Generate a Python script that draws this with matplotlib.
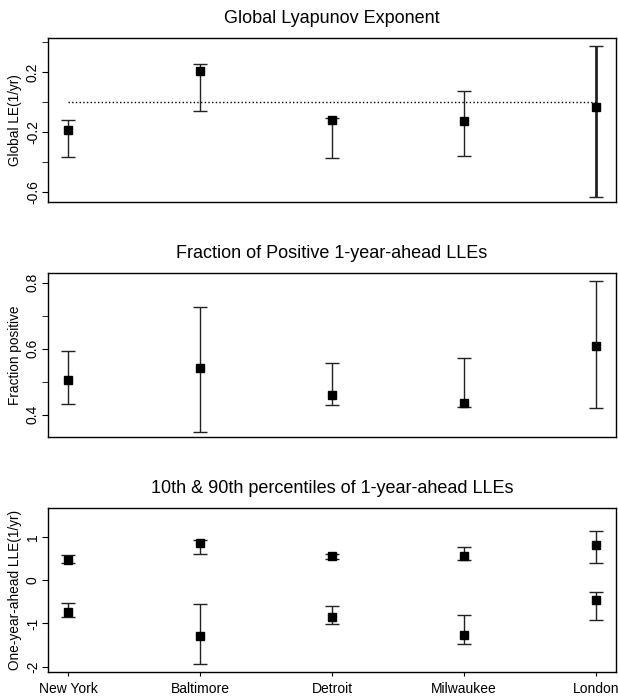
import matplotlib.pyplot as plt
import numpy as np

plt.rcParams['font.family'] = ['Liberation Sans', 'DejaVu Sans']

cities = ["New York", "Baltimore", "Detroit", "Milwaukee", "London"]

# global LE
gle = [-0.185, 0.209, -0.118, -0.122, -0.029]
gle_lo = [-0.365, -0.06, -0.369, -0.356, -0.633]
gle_hi = [-0.12, 0.257, -0.105, 0.077, 0.377]

# fraction positive
frac = [0.505, 0.541, 0.460, 0.434, 0.608]
frac_lo = [0.431, 0.348, 0.430, 0.423, 0.419]
frac_hi = [0.592, 0.727, 0.557, 0.572, 0.806]

# 90th percentile
p90 = [0.455, 0.853, 0.555, 0.555, 0.81]
p90_lo = [0.40, 0.59, 0.485, 0.47, 0.39]
p90_hi = [0.57, 0.915, 0.61, 0.76, 1.12]

# 10th percentile
p10 = [-0.73, -1.29, -0.85, -1.27, -0.465]
p10_lo = [-0.85, -1.94, -1.01, -1.48, -0.92]
p10_hi = [-0.54, -0.557, -0.60, -0.81, -0.28]

x = np.arange(1, 6)

fig = plt.figure(figsize=(6.18, 6.96), dpi=100)
left = 48.3 / 618
width = (615.7 - 48.3) / 618
ax1 = fig.add_axes([left, 1 - 202.3 / 696, width, 164 / 696])
ax2 = fig.add_axes([left, 1 - 437.3 / 696, width, 164 / 696])
ax3 = fig.add_axes([left, 1 - 672 / 696, width, 163.7 / 696])


def errbars(ax, c, lo, hi, lws=None):
    c = np.array(c)
    for i in range(len(c)):
        lw = 1.0 if lws is None else lws[i]
        ax.errorbar(x[i], c[i], yerr=[[c[i] - lo[i]], [hi[i] - c[i]]],
                    fmt='s', color='black', ms=6, ecolor='#222222',
                    elinewidth=lw, capsize=5, capthick=1.0)


def style(ax, title, ylabel):
    ax.set_xlim(0.848, 5.152)
    ax.set_title(title, fontsize=13, pad=11)
    ax.set_ylabel(ylabel, fontsize=9.8, labelpad=3)
    ax.tick_params(axis='y', which='both', direction='out', length=4,
                   labelsize=10, labelrotation=90, pad=2)
    for lab in ax.get_yticklabels():
        lab.set_verticalalignment('center')
    for s in ax.spines.values():
        s.set_linewidth(1.0)


# panel 1
errbars(ax1, gle, gle_lo, gle_hi, lws=[1, 1, 1, 1, 2])
ax1.plot([1, 5], [0, 0], linestyle=':', color='black', lw=1)
ax1.set_ylim(-0.667, 0.427)
ax1.set_yticks([-0.6, -0.2, 0.2])
ax1.set_yticklabels(["-0.6", "-0.2", "0.2"])
ax1.set_yticks([-0.4, 0.0, 0.4], minor=True)
ax1.set_xticks([])
style(ax1, "Global Lyapunov Exponent", "Global LE(1/yr)")

# panel 2
errbars(ax2, frac, frac_lo, frac_hi)
ax2.set_ylim(0.331, 0.829)
ax2.set_yticks([0.4, 0.6, 0.8])
ax2.set_yticklabels(["0.4", "0.6", "0.8"])
ax2.set_yticks([0.5, 0.7], minor=True)
ax2.set_xticks([])
style(ax2, "Fraction of Positive 1-year-ahead LLEs", "Fraction positive")

# panel 3
errbars(ax3, p90, p90_lo, p90_hi)
errbars(ax3, p10, p10_lo, p10_hi)
ax3.set_ylim(-2.12, 1.655)
ax3.set_yticks([-2, -1, 0, 1])
ax3.set_yticklabels(["-2", "-1", "0", "1"])
ax3.set_xticks(x)
ax3.set_xticklabels(cities, fontsize=10)
ax3.tick_params(axis='x', direction='out', length=3, pad=4)
style(ax3, "10th & 90th percentiles of 1-year-ahead LLEs", "One-year-ahead LLE(1/yr)")

plt.savefig('out.png', dpi=100)
